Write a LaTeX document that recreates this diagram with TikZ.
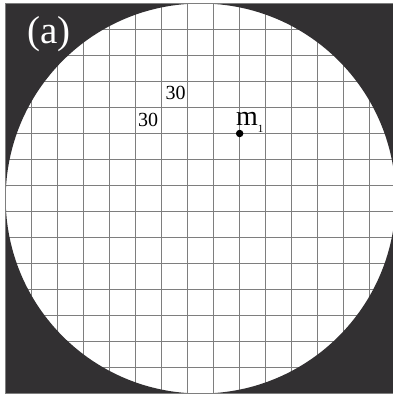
\documentclass[tikz,border=0pt]{standalone}
\usepackage{fontspec}
\setmainfont{Liberation Serif}
\newfontfamily\lserif{Liberation Serif}
\definecolor{darkfill}{HTML}{323032}
\definecolor{gridgray}{HTML}{7E7E7E}
\tikzset{
  gridline/.style={draw=gridgray, line width=1pt},
  numlabel/.style={anchor=base, inner sep=0pt, font=\lserif\fontsize{20}{20}\selectfont},
  massdot/.style={circle, fill=black, inner sep=0pt, minimum size=7.5pt}
}
\begin{document}
\begin{tikzpicture}[x=1pt,y=-1pt]
\useasboundingbox (0,0) rectangle (393,396);
\foreach \i in {1,...,14} {
  \draw[gridline] ({5.67+26*\i},3.5) -- ({5.67+26*\i},393.5);
  \draw[gridline] (5.67,{3.5+26*\i}) -- (395.67,{3.5+26*\i});
}
\fill[darkfill, even odd rule] (5.67,3.5) rectangle (395.67,393.5)
  (200.67,198.5) circle[radius=195];
\draw[gridline] (5.67,3.5) rectangle (395.67,393.5);
\node[anchor=base, text=white, inner sep=0pt, font=\lserif\fontsize{39}{39}\selectfont] (lbl) at (49,43.5) {(a)};
\node[numlabel] (h30) at (175.5,99.3) {30};
\node[numlabel] (w30) at (148,126.5) {30};
\node[massdot] (m1dot) at (239.67,133.5) {};
\node[anchor=base west, inner sep=0pt, font=\lserif\fontsize{28}{28}\selectfont] (m1) at (236,125.7) {m\raisebox{-7pt}{\fontsize{11}{11}\selectfont 1}};
\end{tikzpicture}
\end{document}
